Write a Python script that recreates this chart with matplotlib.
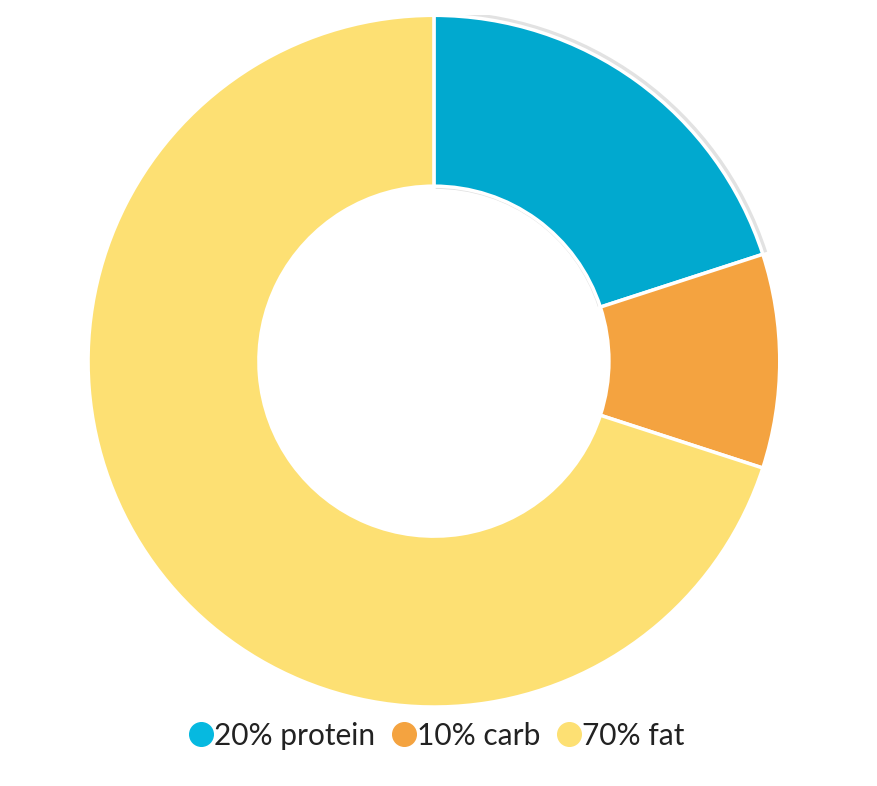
import matplotlib.pyplot as plt
from matplotlib.lines import Line2D
from matplotlib.patches import Wedge

# --- Données ---
labels = ["20% protein", "10% carb", "70% fat"]
values = [20, 10, 70]
colors = ["#01a9cf", "#f4a340", "#fde073"]
legend_colors = ["#06b9e0", "#f4a340", "#fde073"]

plt.rcParams['font.family'] = ['Lato', 'DejaVu Sans']

fig = plt.figure(figsize=(8.78, 7.86), dpi=100)
ax = fig.add_axes([0.1002, 0.1005, 0.788, 0.880])

# --- Ombre légère sous la part sélectionnée ---
start = 90 - values[0] / sum(values) * 360
ax.add_patch(Wedge((0.005, 0.005), 1.008, start, 90, width=0.515,
                   facecolor="#e2e2e2", edgecolor="none", zorder=0))

# --- Donut ---
ax.pie(values, colors=colors, startangle=90, counterclock=False, radius=1,
       wedgeprops=dict(width=0.494, edgecolor="white", linewidth=2.5))
ax.set_xlim(-1, 1)
ax.set_ylim(-1, 1)
ax.set_aspect("equal")
ax.axis("off")

# --- Légende ---
handles = [Line2D([], [], marker="o", linestyle="none", markersize=17,
                  markerfacecolor=c, markeredgecolor=c) for c in legend_colors]
fig.legend(handles, labels, loc="center", bbox_to_anchor=(0.494, 0.064),
           ncol=3, frameon=False, fontsize=21.5, handletextpad=-0.15,
           columnspacing=0.35, labelcolor="#222222", handlelength=1.2)

plt.savefig("out.png", dpi=100)
plt.close()
